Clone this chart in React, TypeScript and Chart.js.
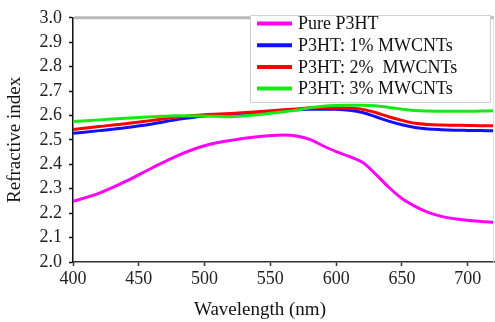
import React, { useEffect, useRef } from "react";
import { Chart, registerables } from "chart.js";

Chart.register(...registerables);

// ---- Data ----
const wavelengths = [400, 420, 440, 460, 480, 500, 520, 540, 560, 570, 580, 590, 600, 610, 620, 630, 640, 650, 660, 670, 680, 690, 700, 710, 720];
const pureP3HT = [2.248, 2.282, 2.33, 2.385, 2.437, 2.476, 2.498, 2.513, 2.52, 2.516, 2.502, 2.476, 2.452, 2.432, 2.408, 2.36, 2.306, 2.26, 2.228, 2.203, 2.187, 2.177, 2.171, 2.166, 2.163];
const mwcnt1 = [2.527, 2.538, 2.55, 2.565, 2.584, 2.598, 2.605, 2.612, 2.62, 2.623, 2.626, 2.626, 2.625, 2.621, 2.612, 2.595, 2.577, 2.562, 2.551, 2.545, 2.542, 2.54, 2.539, 2.538, 2.537];
const mwcnt2 = [2.543, 2.555, 2.566, 2.58, 2.594, 2.603, 2.608, 2.615, 2.623, 2.627, 2.632, 2.633, 2.632, 2.63, 2.625, 2.612, 2.595, 2.58, 2.568, 2.563, 2.561, 2.56, 2.559, 2.558, 2.558];
const mwcnt3 = [2.575, 2.582, 2.589, 2.595, 2.599, 2.598, 2.595, 2.603, 2.615, 2.622, 2.632, 2.638, 2.641, 2.642, 2.642, 2.64, 2.633, 2.626, 2.62, 2.618, 2.617, 2.617, 2.617, 2.618, 2.619];

const seriesLabels = ["Pure P3HT", "P3HT: 1% MWCNTs", "P3HT: 2%  MWCNTs", "P3HT: 3% MWCNTs"];
const seriesColors = ["#ff00ff", "#1010ff", "#ff0000", "#18e818"];
const seriesValues = [pureP3HT, mwcnt1, mwcnt2, mwcnt3];
const drawOrder = [3, 2, 1, 0];

const xTicks = [400, 450, 500, 550, 600, 650, 700];
const yTicks = [2.0, 2.1, 2.2, 2.3, 2.4, 2.5, 2.6, 2.7, 2.8, 2.9, 3.0];
const xRange = [400, 720];
const yRange = [2.0, 3.0];
const xTitle = "Wavelength (nm)";
const yTitle = "Refractive index";

const FONT = "'Liberation Serif', 'Times New Roman', serif";

const boxLegendPlugin = {
  id: "boxLegend",
  afterDraw(chart: any) {
    const ctx = chart.ctx as CanvasRenderingContext2D;
    const area = chart.chartArea;
    ctx.save();
    // top frame line (gray) and faint right frame
    ctx.strokeStyle = "#b8b8b8";
    ctx.lineWidth = 3;
    ctx.beginPath();
    ctx.moveTo(area.left + 1, area.top);
    ctx.lineTo(area.right, area.top);
    ctx.stroke();
    ctx.strokeStyle = "#e2e2e2";
    ctx.lineWidth = 1;
    ctx.beginPath();
    ctx.moveTo(area.right - 0.5, area.top);
    ctx.lineTo(area.right - 0.5, area.bottom);
    ctx.stroke();

    // x-axis title (offset left as in the reference)
    ctx.font = `19px ${FONT}`;
    ctx.fillStyle = "#111";
    ctx.textAlign = "center";
    ctx.textBaseline = "middle";
    ctx.fillText(xTitle, 260, 310);

    // legend box
    const bx = 250, by = 15, bw = 240, bh = 87;
    ctx.fillStyle = "#ffffff";
    ctx.fillRect(bx, by, bw, bh);
    ctx.strokeStyle = "#d0d0d0";
    ctx.lineWidth = 1;
    ctx.strokeRect(bx + 0.5, by + 0.5, bw, bh);
    const rowY0 = 23.5, rowH = 21.7;
    ctx.font = `18px ${FONT}`;
    ctx.textBaseline = "middle";
    ctx.textAlign = "left";
    chart.data.datasets.forEach((ds: any, i: number) => {
      const y = rowY0 + i * rowH;
      ctx.strokeStyle = ds.borderColor;
      ctx.lineWidth = 4;
      ctx.beginPath();
      ctx.moveTo(257, y);
      ctx.lineTo(292, y);
      ctx.stroke();
      ctx.fillStyle = "#111";
      ctx.fillText(ds.label, 298, y + 1);
    });
    ctx.restore();
  },
};

export default function App() {
  const canvasRef = useRef<HTMLCanvasElement | null>(null);

  useEffect(() => {
    document.body.style.margin = "0";
    const canvas = canvasRef.current;
    if (!canvas) return;
    const datasets = seriesValues.map((vals, i) => ({
      label: seriesLabels[i],
      data: wavelengths.map((w, j) => ({ x: w, y: vals[j] })),
      borderColor: seriesColors[i],
      backgroundColor: seriesColors[i],
      borderWidth: 3,
      pointRadius: 0,
      fill: false,
      cubicInterpolationMode: "monotone" as const,
      order: drawOrder[i],
    }));
    const chart = new Chart(canvas, {
      type: "line",
      data: { datasets },
      plugins: [boxLegendPlugin],
      options: {
        animation: false,
        responsive: true,
        maintainAspectRatio: false,
        devicePixelRatio: 1,
        layout: { padding: { top: 16, right: 1, left: 0, bottom: 0 } },
        plugins: { legend: { display: false }, tooltip: { enabled: false } },
        scales: {
          x: {
            type: "linear",
            min: xRange[0],
            max: xRange[1],
            afterBuildTicks: (s: any) => {
              s.ticks = xTicks.map((v) => ({ value: v }));
            },
            afterFit: (s: any) => {
              s.height = 60;
            },
            ticks: {
              font: { family: FONT, size: 18 },
              color: "#222",
              padding: 2,
              maxRotation: 0,
              autoSkip: false,
            },
            grid: {
              display: true,
              drawOnChartArea: false,
              drawTicks: true,
              tickLength: 4,
              color: "#333",
              tickColor: "#333",
              tickWidth: 1.5,
            },
            border: { display: true, color: "#333", width: 1.5 },
            title: { display: false },
          },
          y: {
            type: "linear",
            min: yRange[0],
            max: yRange[1],
            afterBuildTicks: (s: any) => {
              s.ticks = yTicks.map((v) => ({ value: v }));
            },
            afterFit: (s: any) => {
              s.width = 73;
            },
            ticks: {
              font: { family: FONT, size: 18 },
              color: "#222",
              padding: 7,
              autoSkip: false,
              callback: (v: any) => Number(v).toFixed(1),
            },
            grid: {
              display: true,
              drawOnChartArea: false,
              drawTicks: true,
              tickLength: 4,
              color: "#111",
              tickColor: "#111",
              tickWidth: 1.5,
            },
            border: { display: true, color: "#111", width: 1.5 },
            title: {
              display: true,
              text: yTitle,
              font: { family: FONT, size: 19 },
              color: "#111",
              padding: { top: 4, bottom: 0 },
            },
          },
        },
      },
    });
    return () => chart.destroy();
  }, []);

  return (
    <div style={{ width: 495, height: 322, position: "relative" }}>
      <canvas ref={canvasRef} />
    </div>
  );
}
